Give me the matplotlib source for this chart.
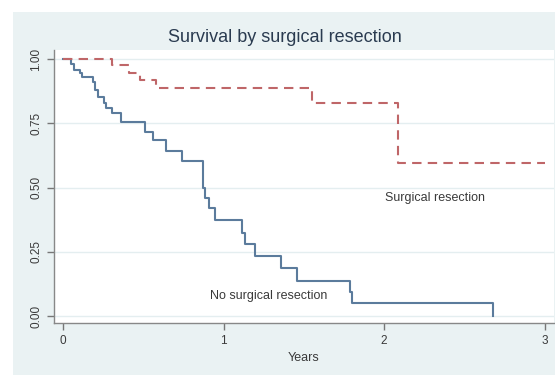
import matplotlib
matplotlib.use("Agg")
import matplotlib.pyplot as plt
from matplotlib.patches import Rectangle

plt.rcParams['font.family'] = ['Liberation Sans', 'DejaVu Sans']

# Kaplan-Meier estimates
years_no = [0, 0.05, 0.07, 0.106, 0.12, 0.19, 0.20, 0.22, 0.255, 0.27, 0.305, 0.36,
            0.51, 0.56, 0.64, 0.74, 0.872, 0.885, 0.91, 0.947, 1.115, 1.134, 1.196,
            1.358, 1.458, 1.79, 1.80, 2.68]
surv_no = [1.0, 0.98, 0.957, 0.945, 0.93, 0.91, 0.88, 0.852, 0.83, 0.81, 0.79, 0.755,
           0.716, 0.685, 0.642, 0.603, 0.50, 0.46, 0.42, 0.373, 0.323, 0.28, 0.233,
           0.187, 0.136, 0.093, 0.05, 0.0]

years_surg = [0, 0.305, 0.41, 0.48, 0.58, 1.55, 2.087, 3.0]
surv_surg = [1.0, 0.977, 0.945, 0.918, 0.887, 0.829, 0.595, 0.595]

yticks = [0.0, 0.25, 0.5, 0.75, 1.0]
ytick_labels = ['0.00', '0.25', '0.50', '0.75', '1.00']
xticks = [0, 1, 2, 3]

bg = '#eaf2f3'
fig = plt.figure(figsize=(5.55, 3.75), dpi=100, facecolor='white')
fig.patches.append(Rectangle((13 / 555, 0), 1, 1 - 12 / 375, transform=fig.transFigure,
                             facecolor=bg, edgecolor='none', zorder=-10))

ax = fig.add_axes([54 / 555, (375 - 323) / 375, 500 / 555, 273 / 375])
ax.set_facecolor('white')

for y in yticks:
    ax.axhline(y, color='#e4eef0', lw=1.0, zorder=1)

ax.step(years_no, surv_no, where='post', color='#5b7b9c', lw=1.5, zorder=3)
ax.step(years_surg, surv_surg, where='post', color='#bf6668', lw=1.5,
        dashes=(4.5, 3), zorder=3)

ax.text(2.32, 0.46, 'Surgical resection', fontsize=9, color='#3a3a3a',
        ha='center', va='center')
ax.text(1.28, 0.078, 'No surgical resection', fontsize=9, color='#3a3a3a',
        ha='center', va='center')

ax.set_xlim(-0.056, 3.059)
ax.set_ylim(-0.027, 1.035)
ax.set_xticks(xticks)
ax.set_yticks(yticks)
ax.set_yticklabels(ytick_labels, rotation=90, va='center')
ax.tick_params(axis='both', labelsize=8.5, colors='#777777', labelcolor='#3a3a3a',
               length=5, width=1, direction='out')
for s in ['top', 'right']:
    ax.spines[s].set_visible(False)
for s in ['left', 'bottom']:
    ax.spines[s].set_color('#888888')
    ax.spines[s].set_linewidth(1.0)

ax.set_xlabel('Years', fontsize=9, color='#3a3a3a', labelpad=4)
fig.text(285 / 555, 1 - 37 / 375, 'Survival by surgical resection', fontsize=13,
         color='#2a3b50', ha='center', va='center')

fig.savefig('out.png', dpi=100, facecolor=fig.get_facecolor())
